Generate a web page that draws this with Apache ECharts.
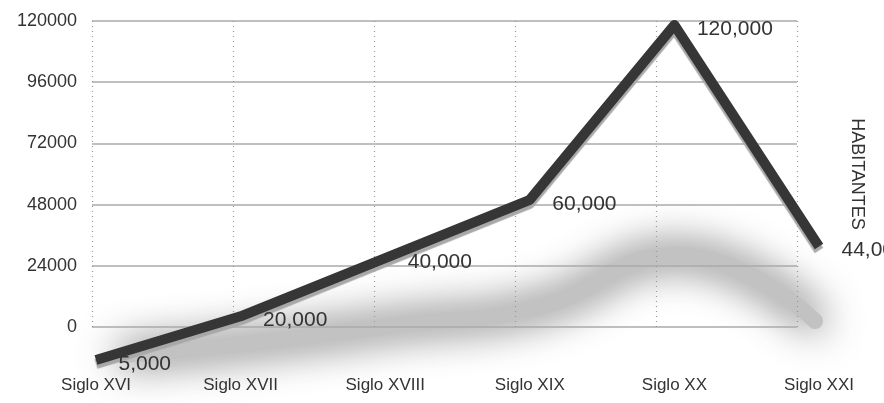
<!DOCTYPE html>
<html><head><meta charset="utf-8">
<script src="https://cdn.jsdelivr.net/npm/echarts@6/dist/echarts.min.js"></script>
<style>html,body{margin:0;padding:0;background:#fff}#c{width:884px;height:403px}</style>
</head><body><div id="c"></div>
<script>
const categories = ['Siglo XVI', 'Siglo XVII', 'Siglo XVIII', 'Siglo XIX', 'Siglo XX', 'Siglo XXI'];
const habitantes = [5000, 20000, 40000, 60000, 120000, 44000];
const yMin = 0, yMax = 120000, yInterval = 24000;
const axisName = 'HABITANTES';
// squashed "floor" scale for the soft shadow of the line
const floorMin = -50200, floorMax = 413250;

const font = '"Liberation Sans", Helvetica, Arial, sans-serif';
const chart = echarts.init(document.getElementById('c'));
const fmt = v => Number(v).toLocaleString('en-US');
chart.setOption({
  animation: false,
  backgroundColor: '#fff',
  grid: [
    {left: 92, right: 87, top: 21, bottom: 76},
    {left: 96, right: 65, top: 25, bottom: 43},
    {left: 56, right: -4, top: 0, bottom: 0}
  ],
  xAxis: [
    {gridIndex: 0, type: 'category', data: categories, boundaryGap: false,
     axisLine: {show: false}, axisTick: {show: false}, axisLabel: {show: false},
     splitLine: {show: true, lineStyle: {type: [1, 4], color: '#999', width: 1.2}}},
    {gridIndex: 1, type: 'category', data: categories, boundaryGap: false,
     axisLine: {show: false}, axisTick: {show: false}, splitLine: {show: false},
     axisLabel: {margin: 17, fontSize: 17, color: '#333', fontFamily: font}},
    {gridIndex: 2, type: 'category', data: categories, boundaryGap: true, show: false}
  ],
  yAxis: [
    {gridIndex: 0, type: 'value', min: yMin, max: yMax, interval: yInterval,
     axisLine: {show: false}, axisTick: {show: false},
     axisLabel: {margin: 15, fontSize: 18, color: '#333', fontFamily: font, formatter: v => String(v)},
     splitLine: {lineStyle: {color: '#aaa', width: 1.5}}},
    {gridIndex: 1, type: 'value', min: 5000, max: 120000,
     axisLine: {show: false}, axisTick: {show: false}, axisLabel: {show: false}, splitLine: {show: false}},
    {gridIndex: 2, type: 'value', min: floorMin, max: floorMax, show: false},
    {gridIndex: 0, type: 'value', min: yMin, max: yMax, interval: yInterval, position: 'right',
     name: axisName, nameLocation: 'middle', nameRotate: -90, nameGap: 51,
     nameTextStyle: {fontSize: 18, color: '#333', fontFamily: font},
     axisLine: {show: false}, axisTick: {show: false}, axisLabel: {show: false}, splitLine: {show: false}}
  ],
  series: [
    {type: 'line', xAxisIndex: 2, yAxisIndex: 2, data: habitantes, silent: true, z: -1, clip: false,
     symbol: 'none', smooth: 0.5,
     lineStyle: {width: 16, color: '#c2c2c2', cap: 'round', shadowBlur: 40, shadowColor: 'rgba(0,0,0,0.8)'}},
    {type: 'line', xAxisIndex: 1, yAxisIndex: 1, data: habitantes, clip: false, z: 5,
     symbol: 'circle', symbolSize: 1, itemStyle: {color: 'rgba(0,0,0,0)'},
     lineStyle: {width: 10, color: '#363636', cap: 'butt', join: 'round',
                 shadowColor: '#a8a8a8', shadowOffsetY: 4, shadowBlur: 1},
     label: {show: true, position: 'right', distance: 22, offset: [0, 4],
             formatter: p => fmt(p.value), fontSize: 21, color: '#333', fontFamily: font}}
  ]
});
</script></body></html>
